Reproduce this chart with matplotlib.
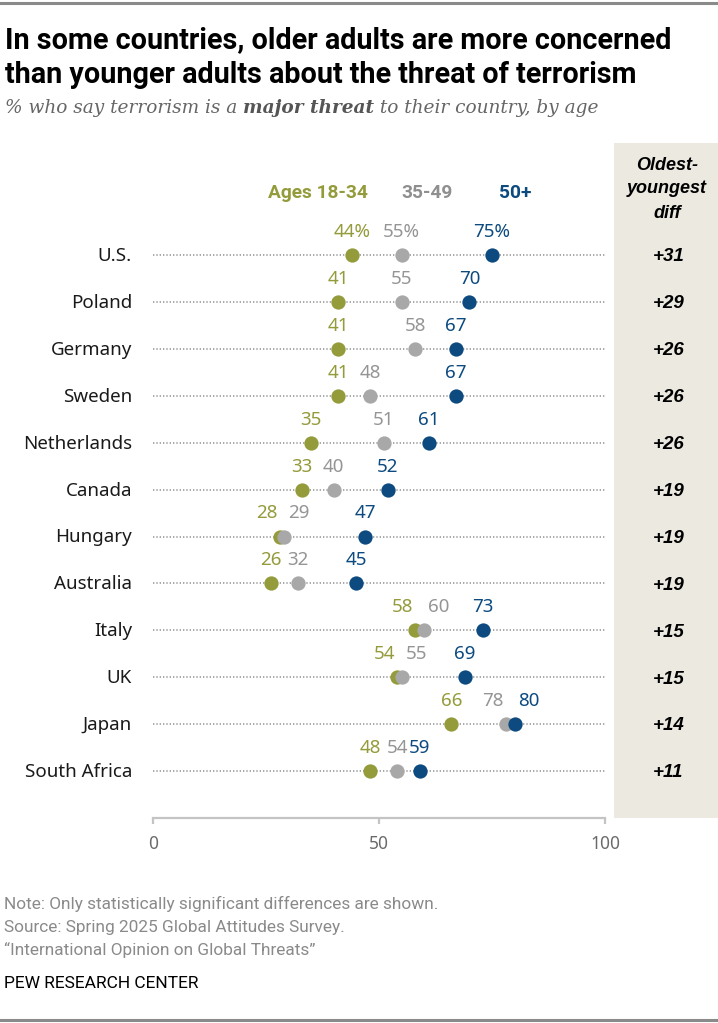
import numpy as np
import matplotlib
matplotlib.use('Agg')
import matplotlib.pyplot as plt
from matplotlib import font_manager as fm
from matplotlib.lines import Line2D

# 数据
countries = ['U.S.', 'Poland', 'Germany', 'Sweden', 'Netherlands', 'Canada',
             'Hungary', 'Australia', 'Italy', 'UK', 'Japan', 'South Africa']
ages_18_34 = [44, 41, 41, 41, 35, 33, 28, 26, 58, 54, 66, 48]
ages_35_49 = [55, 55, 58, 48, 51, 40, 29, 32, 60, 55, 78, 54]
ages_50_plus = [75, 70, 67, 67, 61, 52, 47, 45, 73, 69, 80, 59]
diff = [31, 29, 26, 26, 26, 19, 19, 19, 15, 15, 14, 11]
xticks = [0, 50, 100]
legend_labels = ['Ages 18-34', '35-49', '50+']

GREEN = '#949b3a'
GRAY = '#a8a8a8'
GRAY_TXT = '#959595'
BLUE = '#0c4a80'
BEIGE = '#ece9e1'

names = {f.name for f in fm.fontManager.ttflist}
def pick(*cands):
    for c in cands:
        if c in names:
            return c
    return 'DejaVu Sans'
SANS = pick('Roboto', 'Liberation Sans')
BODY = pick('Noto Sans', 'Open Sans', 'Roboto')
NARROW = pick('Liberation Sans Narrow', 'Roboto', 'Liberation Sans')
SERIF = pick('DejaVu Serif', 'Liberation Serif')
BOLDI = pick('Liberation Sans', 'Roboto')

W, H = 718, 1023
fig = plt.figure(figsize=(W / 100, H / 100), dpi=100)

def fx(px):
    return px / W
def fy(py):
    return 1 - py / H

# 主坐标轴: x 0..100 -> 153..605 px, 行 -> 255 + 46.9*i
ax = fig.add_axes([fx(153), fy(818), 452 / W, 675 / H])
ax.set_xlim(0, 100)
ax.set_ylim(12.0, -2.388)
ax.patch.set_alpha(0)
for s in ['top', 'left', 'right']:
    ax.spines[s].set_visible(False)
ax.spines['bottom'].set_color('#c4c4c4')
ax.spines['bottom'].set_linewidth(1.6)
ax.set_yticks([])
ax.set_xticks(xticks)
ax.tick_params(axis='x', direction='out', length=4, width=1.6, color='#c4c4c4',
               labelsize=12.5, labelcolor='#6a6a6a', pad=8)
for t in ax.get_xticklabels():
    t.set_fontfamily(BODY)

# 右侧差值栏背景
ax.axvspan(102, 125, ymin=0, ymax=1, color=BEIGE, clip_on=False, zorder=0, lw=0)

rows = np.arange(len(countries))
ax.hlines(rows, 0, 100, colors='#999999', linewidth=1.2,
          linestyles=[(0, (0.8, 1.2))], zorder=1)

ax.scatter(ages_18_34, rows, s=106, color=GREEN, zorder=3, lw=0)
ax.scatter(ages_35_49, rows, s=106, color=GRAY, zorder=4, lw=0)
ax.scatter(ages_50_plus, rows, s=106, color=BLUE, zorder=5, lw=0)

# 数值标签, 离得太近的左右错开
for i in rows:
    vals = [ages_18_34[i], ages_35_49[i], ages_50_plus[i]]
    cols = [GREEN, GRAY_TXT, BLUE]
    xs = [float(v) for v in vals]
    for a in range(2):
        for b in range(a + 1, 3):
            if abs(vals[b] - vals[a]) < 4:
                xs[a] = vals[a] - 2.8 if vals[a] <= vals[b] else vals[a] + 3.2
                xs[b] = vals[b] + 3.2 if vals[a] <= vals[b] else vals[b] - 2.8
    for v, x, c in zip(vals, xs, cols):
        lab = f'{v}%' if i == 0 else f'{v}'
        ax.annotate(lab, (x, i), xytext=(0, 13), textcoords='offset points',
                    ha='center', va='baseline', fontsize=13.5, color=c,
                    family=BODY, annotation_clip=False)
    ax.annotate(countries[i], (-4.65, i), xytext=(0, -4.3), textcoords='offset points',
                ha='right', va='baseline', fontsize=13.5, color='#1a1a1a',
                family=BODY, annotation_clip=False)
    ax.annotate(f'+{diff[i]}', (114.0, i), xytext=(0, -4.5), textcoords='offset points',
                ha='center', va='baseline', fontsize=13.5, color='black',
                family=BOLDI, fontweight='bold', fontstyle='italic',
                annotation_clip=False)

# 图例
for lab, c, px in zip(legend_labels, [GREEN, '#8f8f8f', BLUE], [318, 427, 515]):
    fig.text(fx(px), fy(198), lab, ha='center', va='baseline', fontsize=13.8,
             fontweight='bold', color=c, family=SANS)

for lab, py in zip(['Oldest-', 'youngest', 'diff'], [170, 193, 218]):
    fig.text(fx(667), fy(py), lab, ha='center', va='baseline', fontsize=13,
             fontweight='bold', fontstyle='italic', color='black', family=BOLDI)

# 标题
fig.text(fx(5), fy(48), 'In some countries, older adults are more concerned',
         fontsize=20.7, fontweight='bold', family=SANS, va='baseline', color='black')
fig.text(fx(5), fy(83), 'than younger adults about the threat of terrorism',
         fontsize=20.7, fontweight='bold', family=SANS, va='baseline', color='black')

# 副标题 (分段拼接)
r = fig.canvas.get_renderer()
x0 = fx(5)
for part, wt in [('% who say terrorism is a ', 'normal'), ('major threat', 'bold'),
                 (' to their country, by age', 'normal')]:
    t = fig.text(x0, fy(113), part, fontsize=13.3, fontstyle='italic', fontweight=wt,
                 family=SERIF, color='#666666' if wt == 'normal' else '#555555',
                 va='baseline')
    bb = t.get_window_extent(renderer=r)
    x0 += bb.width / W

# 注释
foot = ['Note: Only statistically significant differences are shown.',
        'Source: Spring 2025 Global Attitudes Survey.',
        '\u201cInternational Opinion on Global Threats\u201d']
for txt, py in zip(foot, [909, 932, 955]):
    fig.text(fx(4), fy(py), txt, fontsize=12.4, color='#8a8a8a', family=NARROW,
             va='baseline')
fig.text(fx(4), fy(988), 'PEW RESEARCH CENTER', fontsize=12.5, color='black',
         family=NARROW, va='baseline')

# 上下边线
fig.add_artist(Line2D([0, 1], [fy(3), fy(3)], color='#8a8a8a', lw=2.2))
fig.add_artist(Line2D([0, 1], [fy(1020), fy(1020)], color='#8a8a8a', lw=2.2))

fig.savefig('out.png', dpi=100)
